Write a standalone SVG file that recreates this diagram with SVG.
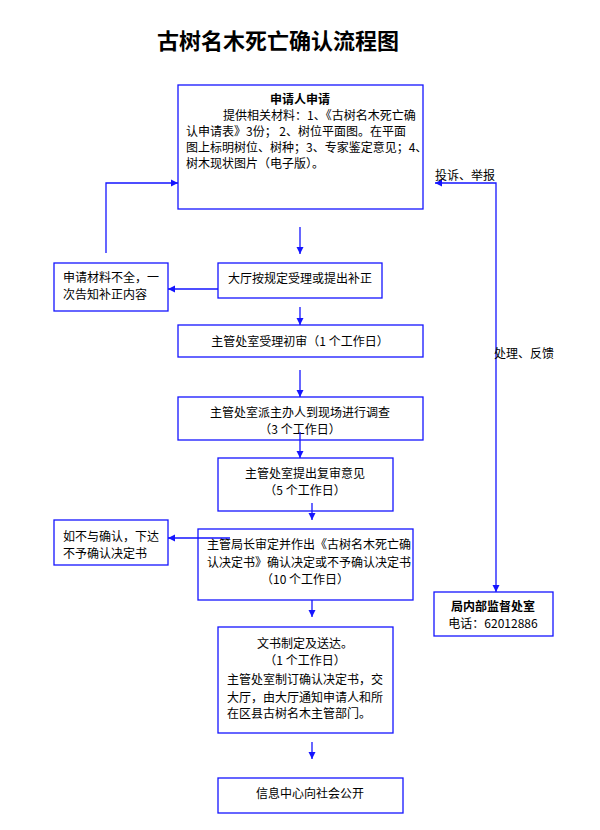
<svg xmlns="http://www.w3.org/2000/svg" width="600" height="830" viewBox="0 0 600 830">
<defs>
<marker id="ah" markerWidth="8" markerHeight="8" refX="7" refY="4" orient="auto-start-reverse" markerUnits="userSpaceOnUse">
<path d="M0,0.5 L7,4 L0,7.5 z" fill="#1515ff"/>
</marker>
<style>
.box{fill:#fff;stroke:#1515ff;stroke-width:1.3}
.t{font-family:"Noto Sans CJK SC","Noto Sans CJK JP",sans-serif;font-size:12px;fill:#000}
.c{text-anchor:middle}
.b{font-weight:bold}
.ln{fill:none;stroke:#1515ff;stroke-width:1.3;marker-end:url(#ah)}
</style>
</defs>
<rect width="600" height="830" fill="#fff"/>
<text class="t c b" x="278" y="49" style="font-size:22px">古树名木死亡确认流程图</text>

<g id="apply">
<rect class="box" x="178" y="85" width="245" height="124"/>
<text class="t c b" x="300" y="104">申请人申请</text>
<text class="t" x="223" y="120">提供相关材料：1、《古树名木死亡确</text>
<text class="t" x="186" y="136">认申请表》3份； 2、树位平面图。在平面</text>
<text class="t" x="186" y="152">图上标明树位、树种；3、专家鉴定意见；4、</text>
<text class="t" x="186" y="168">树木现状图片（电子版）。</text>
</g>
<g id="hall">
<rect class="box" x="218" y="263" width="164" height="35"/>
<text class="t c" x="300" y="283">大厅按规定受理或提出补正</text>
</g>
<g id="incomplete">
<rect class="box" x="54" y="263" width="114" height="48"/>
<text class="t" x="63" y="282">申请材料不全，一</text>
<text class="t" x="63" y="299">次告知补正内容</text>
</g>
<g id="review1">
<rect class="box" x="178" y="325" width="245" height="32"/>
<text class="t c" x="300" y="346">主管处室受理初审（1 个工作日）</text>
</g>
<g id="survey">
<rect class="box" x="178" y="397" width="245" height="43"/>
<text class="t c" x="300" y="417">主管处室派主办人到现场进行调查</text>
<text class="t c" x="300" y="434">（3 个工作日）</text>
</g>
<g id="review2">
<rect class="box" x="218" y="458" width="175" height="53"/>
<text class="t c" x="305" y="478">主管处室提出复审意见</text>
<text class="t c" x="305" y="495">（5 个工作日）</text>
</g>
<g id="decide">
<rect class="box" x="198" y="529" width="215" height="71"/>
<text class="t" x="207" y="549">主管局长审定并作出《古树名木死亡确</text>
<text class="t" x="207" y="567">认决定书》确认决定或不予确认决定书</text>
<text class="t c" x="305" y="584">（10 个工作日）</text>
</g>
<g id="deny">
<rect class="box" x="54" y="520" width="114" height="45"/>
<text class="t" x="63" y="541">如不与确认，下达</text>
<text class="t" x="63" y="558">不予确认决定书</text>
</g>
<g id="document">
<rect class="box" x="218" y="627" width="175" height="106"/>
<text class="t c" x="305" y="648">文书制定及送达。</text>
<text class="t c" x="305" y="665">（1 个工作日）</text>
<text class="t" x="227" y="684">主管处室制订确认决定书，交</text>
<text class="t" x="227" y="702">大厅，由大厅通知申请人和所</text>
<text class="t" x="227" y="718">在区县古树名木主管部门。</text>
</g>
<g id="publish">
<rect class="box" x="218" y="778" width="185" height="35"/>
<text class="t c" x="310" y="798">信息中心向社会公开</text>
</g>
<g id="supervise">
<rect class="box" x="434" y="592" width="119" height="44"/>
<text class="t c b" x="493" y="611">局内部监督处室</text>
<text class="t c" x="493" y="628">电话：62012886</text>
</g>

<g id="connectors">
<line class="ln" x1="300" y1="227" x2="300" y2="254"/>
<line class="ln" x1="218" y1="289" x2="168" y2="289"/>
<polyline class="ln" points="106,253 106,183 178,183"/>
<line class="ln" x1="300" y1="307" x2="300" y2="325"/>
<line class="ln" x1="300" y1="370" x2="300" y2="397"/>
<line class="ln" x1="300" y1="432" x2="300" y2="458"/>
<line class="ln" x1="312" y1="503" x2="312" y2="520"/>
<line class="ln" x1="230" y1="538" x2="168" y2="538"/>
<line class="ln" x1="312" y1="600" x2="312" y2="617"/>
<line class="ln" x1="312" y1="742" x2="312" y2="759"/>
<polyline class="ln" style="marker-start:url(#ah)" points="435,183 496,183 496,592"/>
<text class="t" x="435" y="180">投诉、举报</text>
<text class="t" x="494" y="358">处理、反馈</text>
</g>
</svg>
